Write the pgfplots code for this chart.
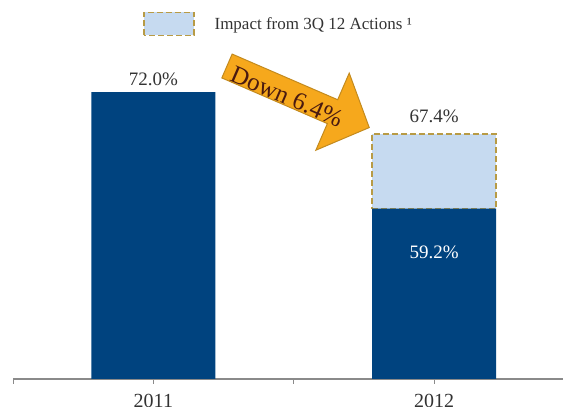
\documentclass[border=0pt]{standalone}
\usepackage{fontspec}
\setmainfont{Liberation Serif}
\usepackage{pgfplots}
\pgfplotsset{compat=1.18}

\definecolor{barblue}{HTML}{00437F}
\definecolor{lightfill}{HTML}{C6DAF0}
\definecolor{dashgold}{HTML}{B89B45}
\definecolor{arrowfill}{HTML}{F6A81C}
\definecolor{arrowedge}{HTML}{C38A1E}
\definecolor{downtext}{HTML}{4A1A10}
\definecolor{axisgray}{HTML}{8A8A8A}
\definecolor{labelgray}{HTML}{333333}

\pgfplotsset{
    boxlegend/.style={legend image code/.code={\draw[##1] (0pt,-11.5pt) rectangle (50pt,11.5pt);}}
}

\begin{document}
\begin{tikzpicture}
\useasboundingbox (-13pt,-28pt) rectangle (550pt,379pt);
\begin{axis}[
        ,scale only axis
        ,width          = 550pt
        ,height         = 379pt
        ,xmin           = -0.5
        ,xmax           = 1.459
        ,ymin           = 40.5
        ,ymax           = 82.1
        ,ybar stacked
        ,bar width      = 124pt
        ,axis x line*   = bottom
        ,axis y line    = none
        ,xtick          = {0,1}
        ,xticklabels    = {2011,2012}
        ,minor xtick    = {-0.5,0.5}
        ,tick align     = outside
        ,major tick length = 5pt
        ,minor tick length = 5pt
        ,tick style     = {axisgray, line width=1pt}
        ,axis line style = {axisgray, line width=1.5pt}
        ,xticklabel style = {font=\fontsize{20}{23}\selectfont, text=labelgray, anchor=base, yshift=-24pt}
        ,legend style   = {at={(axis description cs:0.236,0.937)}, anchor=west, draw=none, fill=none,
                           inner sep=0pt, font=\fontsize{17}{20}\selectfont, text=labelgray,
                           /tikz/every odd column/.append style={column sep=18pt}}
        ]
    \addlegendimage{fill=lightfill, draw=dashgold, line width=1.6pt, dash pattern=on 6pt off 3pt, boxlegend}
    \addlegendentry{Impact from 3Q 12 Actions ¹}

    \addplot [fill=barblue, draw=none] coordinates {(1,59.2) (0,72)};
    \addplot [fill=lightfill, draw=dashgold, line width=1.6pt, dash pattern=on 6pt off 3pt]
        coordinates {(1,8.2)};

    \coordinate (l2011) at (axis cs:0,72.76);
    \coordinate (l2012) at (axis cs:1,68.69);
    \coordinate (lbase) at (axis cs:1,53.75);
\end{axis}

\node [anchor=base, text=labelgray, font=\fontsize{19}{22}\selectfont] at (l2011) {72.0\%};
\node [anchor=base, text=labelgray, font=\fontsize{19}{22}\selectfont] at (l2012) {67.4\%};
\node [anchor=base, text=white, font=\fontsize{19}{22}\selectfont] at (lbase) {59.2\%};

% the "Down" arrow
\begin{scope}[shift={(214pt,313pt)}, rotate=-23.4]
    \draw [fill=arrowfill, draw=arrowedge, line width=1pt, line join=miter]
        (0pt,-13pt) -- (115pt,-13pt) -- (115pt,-42pt) -- (155pt,0pt)
        -- (115pt,42pt) -- (115pt,13pt) -- (0pt,13pt) -- cycle;
    \node [transform shape, text=downtext, font=\fontsize{25}{28}\selectfont] at (67pt,-4pt) {Down 6.4\%};
\end{scope}
\end{tikzpicture}
\end{document}
